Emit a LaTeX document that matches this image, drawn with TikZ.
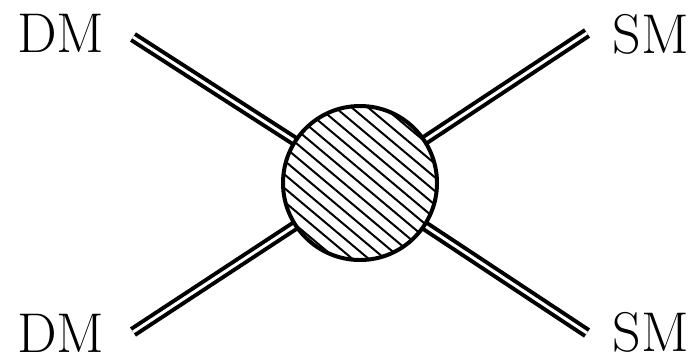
\documentclass[tikz,border=0pt]{standalone}
\begin{document}
\begin{tikzpicture}[x=0.5pt,y=-0.5pt,
  dbl/.style={double=white,double distance=1.5pt,line width=2pt},
  hatch/.style={line width=1pt},
  lbl/.style={inner sep=0pt,font=\fontsize{28}{34}\selectfont}]
\useasboundingbox (0,0) rectangle (695,360);
\node[circle,minimum size=77pt,inner sep=0pt] (blob) at (360,183) {};
\coordinate (a) at (133,37);
\coordinate (b) at (133,332);
\coordinate (c) at (587,33);
\coordinate (d) at (587,333);
\draw[dbl] (a) -- (blob);
\draw[dbl] (b) -- (blob);
\draw[dbl] (c) -- (blob);
\draw[dbl] (d) -- (blob);
\begin{scope}
  \clip (360,183) circle (77);
  \begin{scope}[shift={(360,183)},rotate=-40]
    \foreach \i in {-8,...,8} \draw[hatch] (-100,\i*10.5) -- (100,\i*10.5);
  \end{scope}
\end{scope}
\draw[line width=2pt] (blob.center) circle (77);
\node[lbl] (dm1) at (61,33) {DM};
\node[lbl] (dm2) at (61,333) {DM};
\node[lbl] (sm1) at (651,34) {SM};
\node[lbl] (sm2) at (651,332) {SM};
\end{tikzpicture}
\end{document}
